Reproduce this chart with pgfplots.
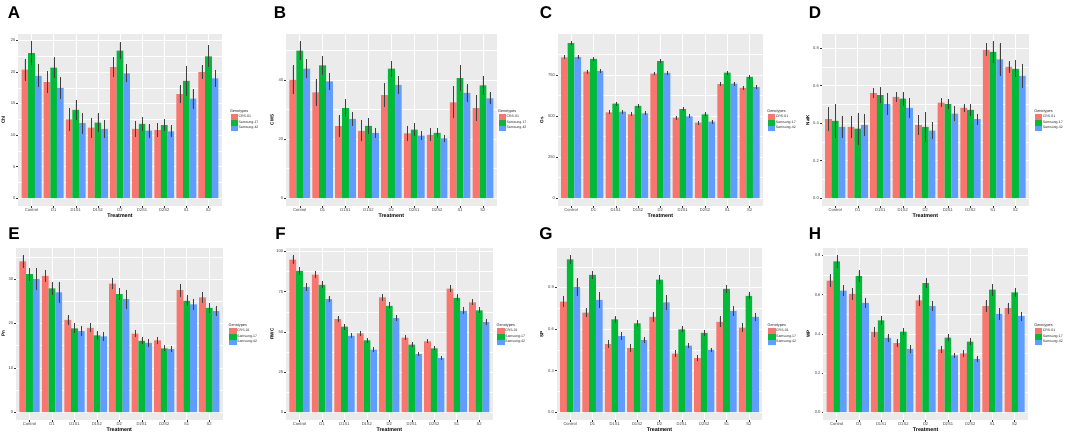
\documentclass[border=0pt]{standalone}
\usepackage{pgfplots}
\pgfplotsset{compat=1.18}
\usepackage{pgfplotstable}
\usepackage{fontspec}
\setmainfont{Liberation Sans}
\definecolor{ggr}{HTML}{F8766D}
\definecolor{ggg}{HTML}{00BA38}
\definecolor{ggb}{HTML}{619CFF}
\definecolor{ggbg}{HTML}{EBEBEB}
\definecolor{ggtxt}{HTML}{4D4D4D}
\definecolor{ggtick}{HTML}{333333}
\definecolor{errc}{HTML}{404040}

\pgfplotstableread{
x r re g ge b be
1 20.4 1.6 23.0 1.8 19.4 1.7
2 18.4 1.6 20.7 1.55 17.5 1.6
3 12.5 1.7 14.0 1.5 11.9 1.5
4 11.2 1.45 12.0 1.4 11.0 1.3
5 20.8 1.4 23.4 1.2 19.8 1.3
6 11.0 1.1 11.8 0.95 10.7 0.95
7 10.8 0.95 11.6 0.85 10.6 0.8
8 16.5 1.25 18.6 2.2 15.8 1.45
9 20.0 0.95 22.5 1.6 19.0 1.2
}\tA
\pgfplotstableread{
x r re g ge b be
1 40.0 4.6 49.9 3.0 43.8 2.9
2 35.8 4.3 44.9 2.8 39.5 2.7
3 24.4 3.5 30.5 2.7 26.8 2.0
4 22.8 3.3 24.5 2.4 22.1 1.5
5 34.9 3.7 43.8 2.4 38.3 2.6
6 21.9 2.3 23.2 1.9 21.2 1.1
7 21.4 1.9 22.1 1.4 20.2 0.9
8 32.4 5.1 40.6 4.0 35.6 2.6
9 30.5 4.0 38.2 3.0 33.8 1.8
}\tB
\pgfplotstableread{
x r re g ge b be
1 856 7 943 8 858 7
2 770 7 848 7 774 7
3 522 6 575 6 526 6
4 510 6 561 6 516 6
5 758 6 833 7 762 6
6 490 6 541 6 498 6
7 459 6 510 6 465 6
8 693 7 764 7 697 7
9 671 6 738 6 675 6
}\tC
\pgfplotstableread{
x r re g ge b be
1 0.421 0.058 0.412 0.085 0.380 0.055
2 0.380 0.055 0.371 0.080 0.390 0.052
3 0.560 0.021 0.549 0.037 0.501 0.054
4 0.540 0.020 0.531 0.032 0.481 0.048
5 0.390 0.048 0.380 0.073 0.360 0.042
6 0.510 0.018 0.501 0.023 0.451 0.034
7 0.481 0.014 0.471 0.026 0.421 0.025
8 0.791 0.030 0.781 0.053 0.740 0.083
9 0.700 0.025 0.690 0.041 0.652 0.058
}\tD
\pgfplotstableread{
x r re g ge b be
1 34.0 1.25 31.1 1.3 30.0 2.2
2 30.7 1.1 27.9 1.25 27.0 2.2
3 20.8 0.9 18.9 0.9 18.3 1.0
4 19.0 0.8 17.3 0.8 17.1 0.85
5 29.0 1.05 26.6 1.1 25.5 1.95
6 17.7 0.6 16.1 0.6 15.6 0.6
7 16.2 0.55 14.4 0.45 14.2 0.45
8 27.5 1.25 25.1 1.0 24.3 1.1
9 25.9 1.0 23.5 0.95 22.8 0.95
}\tE
\pgfplotstableread{
x r re g ge b be
1 95.0 2.3 87.9 2.0 77.9 1.8
2 85.6 1.8 79.2 1.6 70.4 1.5
3 57.9 1.4 53.3 1.3 47.5 1.0
4 49.0 1.0 44.7 1.2 38.9 1.0
5 71.5 1.6 66.2 1.5 58.5 1.4
6 46.4 0.9 42.0 0.9 36.2 0.8
7 44.1 0.7 39.7 0.7 33.7 0.5
8 76.9 1.5 71.1 1.6 63.0 1.6
9 68.4 1.4 63.4 1.4 56.1 1.3
}\tF
\pgfplotstableread{
x r re g ge b be
1 0.799 0.030 1.103 0.026 0.903 0.058
2 0.719 0.027 0.992 0.024 0.811 0.052
3 0.492 0.023 0.671 0.017 0.550 0.022
4 0.463 0.023 0.642 0.019 0.520 0.015
5 0.688 0.027 0.958 0.024 0.792 0.045
6 0.422 0.019 0.598 0.015 0.480 0.012
7 0.391 0.016 0.572 0.012 0.449 0.011
8 0.652 0.034 0.890 0.024 0.731 0.027
9 0.611 0.027 0.840 0.019 0.688 0.022
}\tG
\pgfplotstableread{
x r re g ge b be
1 0.671 0.028 0.770 0.028 0.621 0.021
2 0.604 0.026 0.695 0.026 0.558 0.022
3 0.410 0.020 0.469 0.018 0.379 0.015
4 0.352 0.017 0.411 0.015 0.323 0.015
5 0.570 0.022 0.659 0.022 0.541 0.022
6 0.321 0.014 0.381 0.014 0.290 0.010
7 0.300 0.012 0.360 0.012 0.271 0.009
8 0.541 0.026 0.625 0.027 0.502 0.026
9 0.531 0.023 0.611 0.020 0.490 0.019
}\tH

\pgfplotsset{
  ggkey/.style={legend image code/.code={\fill[##1] (0pt,-2.85pt) rectangle (7.3pt,2.85pt);}},
  ggerr/.style={error bars/.cd, y dir=both, y explicit,
     error bar style={errc, line width=0.3pt},
     error mark options={errc, mark size=0.9pt, line width=0.3pt}},
  ggpanel/.style={
    scale only axis, height=172pt,
    ybar, bar width=0.3,
    xmin=0.4, xmax=9.6, enlargelimits=false,
    xtick={1,...,9}, xticklabels={Control,D1,D1S1,D1S2,D2,D2S1,D2S2,S1,S2},
    axis background/.style={fill=ggbg},
    axis line style={draw=none},
    tick pos=left, tick align=outside, major tick length=1.8pt, minor tick length=0pt,
    tick style={ggtick, line width=0.4pt},
    xmajorgrids, ymajorgrids, yminorgrids,
    major grid style={white, line width=0.55pt},
    minor grid style={white, line width=0.3pt},
    ticklabel style={font=\fontsize{4.1}{4.5}\selectfont, text=ggtxt!80!black, inner sep=0.8pt},
    xlabel={Treatment},
    xlabel style={font=\bfseries\fontsize{5.3}{6}\selectfont, at={([yshift=-10pt]axis description cs:0.5,0)}, anchor=center},
    ylabel style={font=\bfseries\fontsize{4.6}{5}\selectfont, anchor=center},
    legend style={draw=none, fill=none, anchor=west, inner sep=0pt, outer sep=0pt, row sep=0pt,
       font=\fontsize{3.5}{4}\selectfont, nodes={inner sep=0.6pt, text=black!85}},
    legend cell align=left,
  },
  ylab/.style={ylabel style={at={([xshift=-#1]axis description cs:0,0.5)}}},
  leg/.style={legend style={at={(1,0.5)}, xshift=#1}},
}

\newcommand{\ggbars}[1]{%
  \addlegendimage{empty legend}\addlegendentry{\hspace*{-8.6pt}\fontsize{3.8}{4}\selectfont Genotypes}
  \addplot[fill=ggr, draw=none, bar shift=-0.3, ggkey, ggerr] table[x=x,y=r,y error=re]{#1};
  \addlegendentry{CRS-01}
  \addplot[fill=ggg, draw=none, bar shift=0, ggkey, ggerr] table[x=x,y=g,y error=ge]{#1};
  \addlegendentry{Samsung-17}
  \addplot[fill=ggb, draw=none, bar shift=0.3, ggkey, ggerr] table[x=x,y=b,y error=be]{#1};
  \addlegendentry{Samsung-42}
}

\begin{document}
\begin{tikzpicture}
\path[use as bounding box] (0,0) rectangle (1065pt,434pt);

% Row 1
\begin{axis}[ggpanel, at={(18.3pt,228pt)}, anchor=south west, width=203.4pt,
  ymin=-1.24, ymax=26.04, ytick={0,5,10,15,20,25}, yticklabels={0,5,10,15,20,25},
  minor ytick={2.5,7.5,12.5,17.5,22.5}, ylabel={Chl}, ylab=15pt, leg=9pt]
\ggbars{\tA}
\end{axis}
\begin{axis}[ggpanel, at={(286pt,228pt)}, anchor=south west, width=210.7pt,
  ymin=-2.65, ymax=55.55, ytick={0,20,40}, yticklabels={0,20,40},
  minor ytick={10,30,50}, ylabel={CMS}, ylab=14pt, leg=2pt]
\ggbars{\tB}
\end{axis}
\begin{axis}[ggpanel, at={(557.7pt,228pt)}, anchor=south west, width=205.3pt,
  ymin=-47.55, ymax=998.55, ytick={0,250,500,750}, yticklabels={0,250,500,750},
  minor ytick={125,375,625,875}, ylabel={Gs}, ylab=16pt, leg=5pt]
\ggbars{\tC}
\end{axis}
\begin{axis}[ggpanel, at={(821.7pt,228pt)}, anchor=south west, width=207.3pt,
  ymin=-0.0417, ymax=0.8757, ytick={0,0.2,0.4,0.6,0.8}, yticklabels={0.0,0.2,0.4,0.6,0.8},
  minor ytick={0.1,0.3,0.5,0.7}, ylabel={Na/K}, ylab=14pt, leg=6pt]
\ggbars{\tD}
\end{axis}

% Row 2
\begin{axis}[ggpanel, at={(16pt,14pt)}, anchor=south west, width=206.7pt,
  ymin=-1.76, ymax=37.01, ytick={0,10,20,30}, yticklabels={0,10,20,30},
  minor ytick={5,15,25,35}, ylabel={Pn}, ylab=12.7pt, leg=6.6pt]
\ggbars{\tE}
\end{axis}
\begin{axis}[ggpanel, at={(286pt,14pt)}, anchor=south west, width=206.7pt,
  ymin=-4.87, ymax=102.17, ytick={0,25,50,75,100}, yticklabels={0,25,50,75,100},
  minor ytick={12.5,37.5,62.5,87.5}, ylabel={RWC}, ylab=14pt, leg=4.6pt]
\ggbars{\tF}
\end{axis}
\begin{axis}[ggpanel, at={(556.7pt,14pt)}, anchor=south west, width=205.6pt,
  ymin=-0.0565, ymax=1.1855, ytick={0,0.3,0.6,0.9}, yticklabels={0.0,0.3,0.6,0.9},
  minor ytick={0.15,0.45,0.75,1.05}, ylabel={SP}, ylab=15pt, leg=6pt]
\ggbars{\tG}
\end{axis}
\begin{axis}[ggpanel, at={(823.3pt,14pt)}, anchor=south west, width=204.7pt,
  ymin=-0.0399, ymax=0.8379, ytick={0,0.2,0.4,0.6,0.8}, yticklabels={0.0,0.2,0.4,0.6,0.8},
  minor ytick={0.1,0.3,0.5,0.7}, ylabel={WP}, ylab=15pt, leg=7pt]
\ggbars{\tH}
\end{axis}

% Panel letters
\begin{scope}[every node/.style={font=\bfseries\fontsize{17}{17}\selectfont, anchor=center, inner sep=0pt}]
\node at (14pt,421pt) {A};
\node at (280pt,421pt) {B};
\node at (546pt,421pt) {C};
\node at (815pt,421pt) {D};
\node at (14pt,200.5pt) {E};
\node at (280.5pt,200.5pt) {F};
\node at (546pt,200.5pt) {G};
\node at (815pt,200.5pt) {H};
\end{scope}
\end{tikzpicture}
\end{document}
